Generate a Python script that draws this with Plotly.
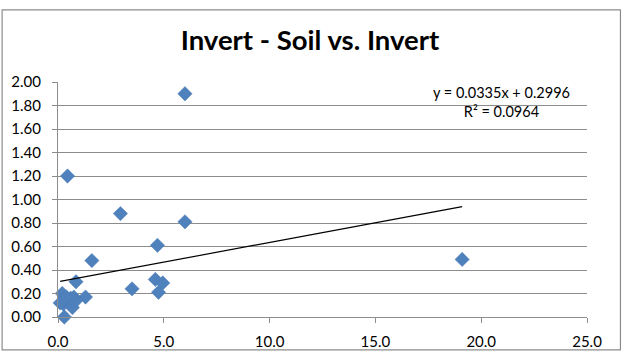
import plotly.graph_objects as go

# Soil (x) vs. Invert (y) measurements
soil = [6.0, 0.45, 2.95, 6.0, 4.7, 1.6, 19.1, 0.85, 3.5, 4.6, 4.95, 4.75,
        1.3, 0.3, 0.2, 0.25, 0.75, 0.5, 0.68, 0.1, 0.85, 0.6, 0.4]
invert = [1.90, 1.20, 0.88, 0.81, 0.61, 0.48, 0.49, 0.30, 0.24, 0.32, 0.29, 0.21,
          0.17, 0.00, 0.20, 0.11, 0.17, 0.13, 0.08, 0.12, 0.14, 0.16, 0.17]

# Linear trendline coefficients
slope = 0.0335
intercept = 0.2996
r_squared = 0.0964

x_ticks = [0, 5, 10, 15, 20, 25]
y_ticks = [0, 0.2, 0.4, 0.6, 0.8, 1.0, 1.2, 1.4, 1.6, 1.8, 2.0]

x_fit = [min(soil), max(soil)]
y_fit = [slope * v + intercept for v in x_fit]

FONT = "Lato, Calibri, sans-serif"
GRID = "#8c8c8c"

fig = go.Figure()
fig.add_trace(go.Scatter(
    x=soil, y=invert, mode="markers",
    marker=dict(symbol="diamond", size=11, color="#4f81bd",
                line=dict(width=0.5, color="#4a7ab3")),
    cliponaxis=False, showlegend=False,
))
fig.add_trace(go.Scatter(
    x=x_fit, y=y_fit, mode="lines",
    line=dict(color="black", width=1.2),
    showlegend=False,
))

fig.update_layout(
    width=626, height=351,
    margin=dict(l=57.5, r=38.5, t=81.5, b=33.5, autoexpand=False),
    paper_bgcolor="white", plot_bgcolor="white",
    title=dict(text="<b>Invert - Soil vs. Invert</b>", x=310 / 626, xanchor="center",
               y=1 - 40 / 351, yanchor="middle",
               font=dict(family=FONT, size=27.5, color="black")),
    font=dict(family=FONT, size=15, color="black"),
    xaxis=dict(range=[0, 25], tickvals=x_ticks,
               ticktext=[f"{v:.1f}" for v in x_ticks],
               showgrid=False, zeroline=False, showline=True,
               linecolor=GRID, linewidth=1.2, automargin=False,
               ticks="outside", ticklen=5, tickcolor=GRID,
               ticklabelstandoff=6,
               tickfont=dict(size=15)),
    yaxis=dict(range=[0, 2], tickvals=y_ticks,
               ticktext=[f"{v:.2f}" for v in y_ticks],
               showgrid=True, gridcolor=GRID, gridwidth=1,
               zeroline=False, showline=True,
               linecolor=GRID, linewidth=1.2, automargin=False,
               ticks="outside", ticklen=5, tickcolor=GRID,
               ticklabelstandoff=8,
               tickfont=dict(size=15)),
    shapes=[dict(type="rect", xref="paper", yref="paper",
                 x0=-56 / 530, x1=1 + 33.5 / 530,
                 y0=-33 / 236, y1=1 + 72.5 / 236,
                 line=dict(color="#8c8c8c", width=1.2))],
    annotations=[
        dict(text=f"y = {slope}x + {intercept}<br>R² = {r_squared}",
             x=20.97, y=1.83, xref="x", yref="y", showarrow=False,
             align="center", xanchor="center", yanchor="middle",
             font=dict(family=FONT, size=14.5, color="black")),
    ],
)

fig.write_html("out.html")
